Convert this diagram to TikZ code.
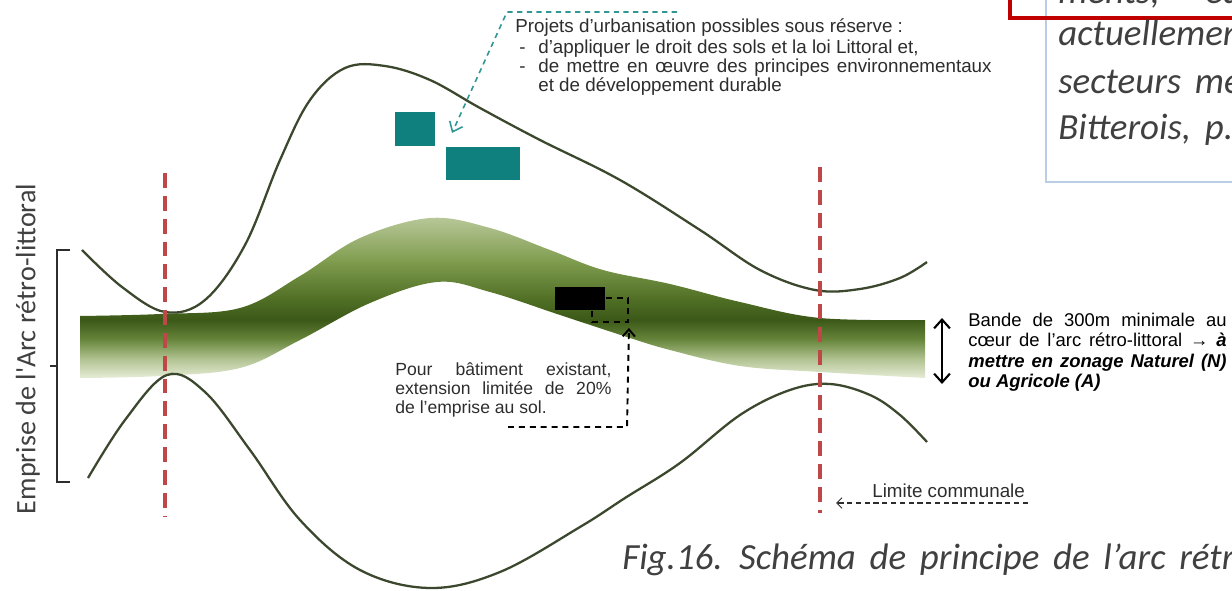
\documentclass[tikz,border=0pt]{standalone}
\usepackage{fontspec}
\setmainfont{Liberation Sans}
\newfontfamily\calib{Carlito}
\usetikzlibrary{arrows.meta}
\newcommand\capspacing{\spaceskip=7.8pt plus 1pt minus 0.5pt\relax}
\definecolor{curvecol}{RGB}{60,72,45}
\definecolor{limred}{RGB}{190,72,72}
\definecolor{tealc}{RGB}{15,128,125}
\definecolor{teall}{RGB}{50,150,150}
\definecolor{txtgray}{RGB}{45,45,45}
\definecolor{capgray}{RGB}{64,64,64}
\definecolor{redframe}{RGB}{192,0,0}
\definecolor{blueframe}{RGB}{185,205,229}
\definecolor{bandA}{RGB}{230,236,214}
\definecolor{bandB}{RGB}{176,194,144}
\definecolor{bandC}{RGB}{102,133,58}
\definecolor{bandD}{RGB}{59,88,24}
\definecolor{bandE}{RGB}{79,110,36}
\definecolor{bandF}{RGB}{127,156,78}
\definecolor{bandG}{RGB}{185,201,154}
\pgfdeclareverticalshading{bandshade}{100bp}{color(0bp)=(bandA); color(25bp)=(bandA); color(31bp)=(bandB); color(37bp)=(bandC); color(43bp)=(bandD); color(49bp)=(bandE); color(61bp)=(bandF); color(75bp)=(bandG); color(100bp)=(bandG)}
\tikzset{
  curveline/.style={draw=curvecol, line width=1.3pt},
  limline/.style={draw=limred, line width=2.3pt, dash pattern=on 8.5pt off 4.5pt},
  tealbox/.style={fill=tealc, draw=none, inner sep=0pt},
  tealdash/.style={draw=teall, line width=0.9pt, dash pattern=on 3pt off 2.5pt, -{Straight Barb[length=5pt,width=8pt]}},
  ptxt/.style={font=\fontsize{10.7}{12}\selectfont, text=txtgray, inner sep=0pt, anchor=base west},
  qtxt/.style={font=\fontsize{10}{12}\selectfont, text=txtgray, inner sep=0pt, anchor=base west},
  btxt/.style={font=\fontsize{10.5}{12}\selectfont, text=black, inner sep=0pt, anchor=base west},
  captxt/.style={font=\calib\itshape\fontsize{21}{24}\selectfont\capspacing, text=capgray, inner sep=0pt, anchor=base west},
  blackdash/.style={draw=black, line width=1.1pt, dash pattern=on 3.4pt off 2.8pt},
  bracketline/.style={draw=txtgray, line width=1pt},
}
\begin{document}
\begin{tikzpicture}[x=0.02cm,y=-0.02cm]
\useasboundingbox (0,0) rectangle (1232,591);
\clip (0,0) rectangle (1232,591);

% top-right frames and text
\draw[draw=blueframe, line width=1.3pt] (1046,-20) -- (1046,182) -- (1260,182);
\draw[draw=redframe, line width=2.6pt] (1010,-20) -- (1010,18) -- (1260,18);
\node[captxt] (tr0) at (1058,4) {ments, – équ};
\node[captxt] (tr1) at (1058,46) {actuellement};
\node[captxt] (tr2) at (1058,94) {secteurs men};
\node[captxt] (tr3) at (1058,140) {Bitterois, p.ex};

% green band
\shade[shading=bandshade]
  plot[smooth, tension=0.6] coordinates {(80,316) (160,314) (240,308) (300,276) (360,238) (430,218) (490,228) (550,250) (603,270) (670,284) (740,302) (820,318) (925,320)}
  -- plot[smooth, tension=0.6] coordinates {(925,378) (820,372) (740,366) (670,350) (627,337) (560,315) (490,292) (437,282) (370,303) (300,340) (240,368) (160,376) (80,378)}
  -- cycle;

% curves
\draw[curveline] plot[smooth, tension=0.6] coordinates {(82,250) (122,287) (165,312) (205,300) (245,245) (280,160) (310,100) (345,68) (385,66) (430,80) (480,108) (540,140) (620,180) (700,230) (760,270) (815,290) (860,289) (900,278) (927,262)};
\draw[curveline] plot[smooth, tension=0.6] coordinates {(88,478) (125,420) (167,375) (205,392) (250,450) (300,520) (360,570) (430,588) (500,572) (580,527) (625,498) (680,463) (740,415) (790,390) (830,384) (870,395) (900,415) (927,442)};

% communal limits
\draw[limline] (165,173) -- (165,517);
\draw[limline] (820,167) -- (820,513);

% building and extension
\node[blackdash, draw, fill=none, minimum width=0.72cm, minimum height=0.48cm, inner sep=0pt] (ext) at (610,310) {};
\node[fill=black, minimum width=1cm, minimum height=0.46cm, inner sep=0pt] (bb) at (580,298.5) {};

% teal projects
\node[tealbox, minimum width=0.8cm, minimum height=0.68cm] (t1) at (415,129) {};
\node[tealbox, minimum width=1.48cm, minimum height=0.66cm] (t2) at (483,163.5) {};
\coordinate (ts) at (677,12);
\coordinate (tb) at (507,12);
\coordinate (ta) at (452,133);
\draw[tealdash] (ts) -- (tb) -- (ta);

% projets text
\node[ptxt] (p1) at (515,33) {Projets d'urbanisation possibles sous réserve :};
\node[ptxt] (p2d) at (519,54) {-};
\node[ptxt] (p2) at (538,54) {d'appliquer le droit des sols et la loi Littoral et,};
\node[ptxt] (p3d) at (519,73) {-};
\node[ptxt] (p3) at (538,73) {\makebox[258pt][s]{de mettre en œuvre des principes environnementaux}};
\node[ptxt] (p4) at (538,92) {et de développement durable};

% pour batiment text
\node[qtxt] (pt1) at (395,376) {\makebox[123pt][s]{Pour bâtiment existant,}};
\node[qtxt] (pt2) at (395,395) {\makebox[123pt][s]{extension limitée de 20\%}};
\node[qtxt] (pt3) at (395,414) {de l'emprise au sol.};
\coordinate (ps) at (508,427);
\coordinate (pc) at (627,427);
\draw[blackdash, -{Straight Barb[length=4pt,width=7pt]}] (ps) -- (pc) -- ([yshift=-0.1cm]ext.south east);

% bande text
\coordinate (ba1) at (942,318);
\coordinate (ba2) at (942,384);
\draw[line width=1.2pt, {Straight Barb[length=5pt,width=9pt]}-{Straight Barb[length=5pt,width=9pt]}] (ba1) -- (ba2);
\node[btxt] (b1) at (968,327) {\makebox[147pt][s]{Bande de 300m minimale au}};
\node[btxt] (b2) at (968,347) {\makebox[147pt][s]{cœur de l'arc rétro-littoral \textbf{\textit{→ à}}}};
\node[btxt] (b3) at (968,368) {\makebox[147pt][s]{\textbf{\textit{mettre en zonage Naturel (N)}}}};
\node[btxt] (b4) at (968,388) {\textbf{\textit{ou Agricole (A)}}};

% limite communale
\node[ptxt] (lim) at (872,498) {Limite communale};
\coordinate (lr) at (1028,503);
\coordinate (la) at (836,503);
\draw[draw=txtgray, line width=0.6pt, dash pattern=on 3pt off 2pt, -{Straight Barb[length=3pt,width=6pt]}] (lr) -- (la);

% vertical label and bracket
\node[rotate=90, font=\calib\fontsize{16}{18}\selectfont, text=capgray, inner sep=0pt] (emp) at (28,349) {Emprise de l'Arc rétro-littoral};
\draw[bracketline] (70,250) -- (57,250) -- (57,482) -- (70,482);
\draw[bracketline] (57,366) -- (50,366);

% caption
\node[captxt] (cap) at (622,569) {Fig.16. Schéma de principe de l’arc rétro-littoral};
\end{tikzpicture}
\end{document}
